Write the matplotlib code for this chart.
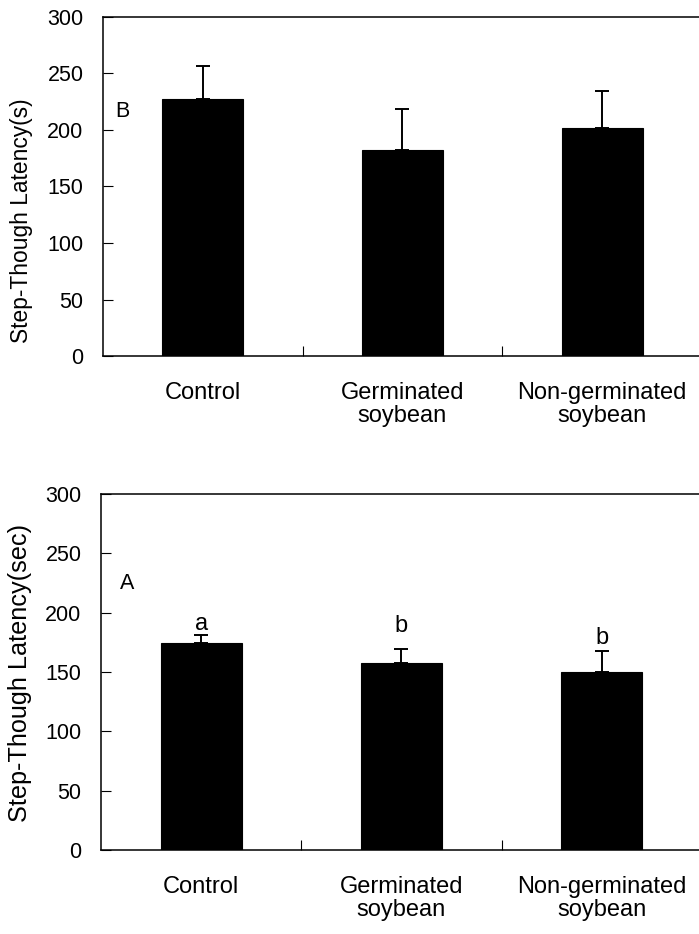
import matplotlib
matplotlib.use("Agg")
import matplotlib.pyplot as plt
import numpy as np

plt.rcParams['font.family'] = ['Liberation Sans', 'DejaVu Sans']

groups = ["Control", "Germinated\nsoybean", "Non-germinated\nsoybean"]

# Panel B (top)
latency_b = [227.4, 182.0, 201.5]
sem_b = [29.5, 36.8, 33.3]

# Panel A (bottom)
latency_a = [174.5, 157.7, 149.6]
sem_a = [6.5, 11.3, 17.7]
letters_a = ["a", "b", "b"]
letter_y_a = [185.2, 183.5, 173.4]

yticks = [0, 50, 100, 150, 200, 250, 300]

W, H = 699, 934
fig = plt.figure(figsize=(W / 100, H / 100), dpi=100)


def px_axes(left, top, right, bottom):
    return fig.add_axes([left / W, 1 - bottom / H, (right - left) / W, (bottom - top) / H])


def draw_panel(ax, means, errs, ylabel, label_size, label_xy, panel, panel_xy):
    x = np.arange(len(means)) + 0.5
    ax.bar(x, means, width=0.405, color='black', edgecolor='black', linewidth=0.8, zorder=2)
    ax.errorbar(x, means, yerr=[np.zeros(len(errs)), errs], fmt='none',
                ecolor='black', elinewidth=1.4, capsize=5.2, capthick=1.4, zorder=3)
    ax.set_xlim(0, 3)
    ax.set_ylim(0, 300)
    ax.set_yticks(yticks)
    ax.set_yticklabels([str(t) for t in yticks], fontsize=15.5)
    ax.set_xticks(x)
    ax.set_xticklabels(groups, fontsize=17, linespacing=1.1)
    ax.set_xticks([1, 2], minor=True)
    ax.tick_params(axis='x', which='major', length=0, pad=18.5)
    ax.tick_params(axis='x', which='minor', direction='in', length=7, width=0.8)
    ax.tick_params(axis='y', direction='in', length=7, width=0.8, pad=14)
    for s in ax.spines.values():
        s.set_linewidth(1.1)
    ax.spines['right'].set_visible(False)
    ax.set_ylabel(ylabel, fontsize=label_size)
    ax.yaxis.set_label_coords(*label_xy)
    ax.text(panel_xy[0], panel_xy[1], panel, fontsize=15.5, ha='left', va='baseline')


ax_top = px_axes(103, 17, 702, 356)
draw_panel(ax_top, latency_b, sem_b, "Step-Though Latency(s)", 16.4,
           (-0.117, 0.400), "B", (0.06, 211.5))

ax_bot = px_axes(101, 494, 702, 850)
draw_panel(ax_bot, latency_a, sem_a, "Step-Though Latency(sec)", 18.2,
           (-0.115, 0.497), "A", (0.095, 219.7))
for xi, lt, ly in zip(np.arange(3) + 0.5, letters_a, letter_y_a):
    ax_bot.text(xi, ly, lt, fontsize=17, ha='center', va='baseline')

fig.savefig("out.png", dpi=100)
